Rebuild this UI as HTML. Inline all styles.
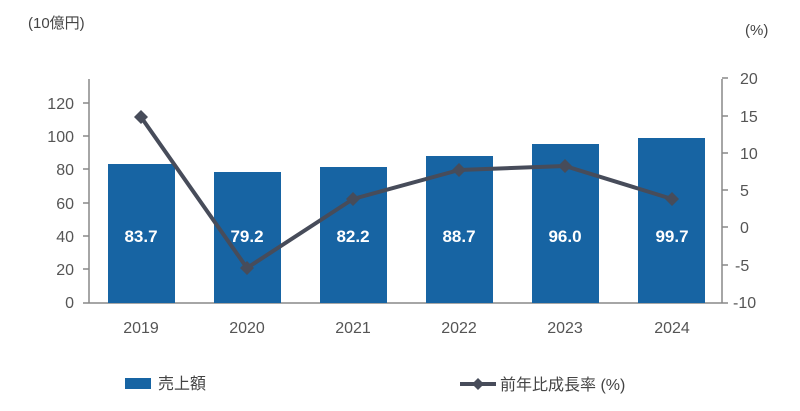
<!DOCTYPE html>
<html><head><meta charset="utf-8"><style>
body{margin:0;background:#fff;}
svg text{font-family:"Liberation Sans","Noto Sans CJK JP",sans-serif;}
</style></head><body>
<svg width="800" height="406" xmlns="http://www.w3.org/2000/svg">
<rect width="800" height="406" fill="#fff"/>
<text x="28" y="28" font-size="15" fill="#444">(10億円)</text>
<text x="745" y="35" font-size="15" fill="#444">(%)</text>
<g stroke="#888" stroke-width="1.5" fill="none">
<line x1="89" y1="79" x2="89" y2="303"/>
<line x1="722" y1="79" x2="722" y2="303"/>
<line x1="83" y1="303" x2="728" y2="303"/>
<line x1="83" y1="103" x2="89" y2="103"/><line x1="83" y1="136" x2="89" y2="136"/><line x1="83" y1="169" x2="89" y2="169"/><line x1="83" y1="203" x2="89" y2="203"/><line x1="83" y1="236" x2="89" y2="236"/><line x1="83" y1="269" x2="89" y2="269"/>
<line x1="722" y1="78" x2="728" y2="78"/><line x1="722" y1="116" x2="728" y2="116"/><line x1="722" y1="153" x2="728" y2="153"/><line x1="722" y1="190" x2="728" y2="190"/><line x1="722" y1="227" x2="728" y2="227"/><line x1="722" y1="265" x2="728" y2="265"/>
</g>
<g font-size="16" fill="#555" text-anchor="end">
<text x="74" y="109">120</text><text x="74" y="142">100</text><text x="74" y="175">80</text><text x="74" y="209">60</text><text x="74" y="242">40</text><text x="74" y="275">20</text><text x="74" y="308">0</text>
</g>
<g font-size="16" fill="#555" text-anchor="start">
<text x="740" y="84">20</text><text x="740" y="122">15</text><text x="740" y="159">10</text><text x="740" y="196">5</text><text x="740" y="233">0</text><text x="735" y="271">-5</text><text x="733" y="308">-10</text>
</g>
<g fill="#1764a3">
<rect x="108" y="164" width="67" height="139"/>
<rect x="214" y="172" width="67" height="131"/>
<rect x="320" y="167" width="67" height="136"/>
<rect x="426" y="156" width="67" height="147"/>
<rect x="532" y="144" width="67" height="159"/>
<rect x="638" y="138" width="67" height="165"/>
</g>
<g font-size="17" font-weight="bold" fill="#fff" text-anchor="middle">
<text x="141" y="242">83.7</text><text x="247" y="242">79.2</text><text x="353" y="242">82.2</text><text x="459" y="242">88.7</text><text x="565" y="242">96.0</text><text x="672" y="242">99.7</text>
</g>
<polyline points="141,117 247,268 353,199 459,170 565,166 672,199" fill="none" stroke="#474c5a" stroke-width="4" stroke-linejoin="round"/>
<g fill="#474c5a">
<path d="M141,110 l7,7 l-7,7 l-7,-7z"/><path d="M247,261 l7,7 l-7,7 l-7,-7z"/><path d="M353,192 l7,7 l-7,7 l-7,-7z"/><path d="M459,163 l7,7 l-7,7 l-7,-7z"/><path d="M565,159 l7,7 l-7,7 l-7,-7z"/><path d="M672,192 l7,7 l-7,7 l-7,-7z"/>
</g>
<g font-size="16" fill="#555" text-anchor="middle">
<text x="141" y="333">2019</text><text x="247" y="333">2020</text><text x="353" y="333">2021</text><text x="459" y="333">2022</text><text x="565" y="333">2023</text><text x="672" y="333">2024</text>
</g>
<rect x="125" y="378" width="26" height="11" fill="#1764a3"/>
<text x="158" y="389" font-size="16" fill="#444">売上額</text>
<line x1="460" y1="384" x2="496" y2="384" stroke="#474c5a" stroke-width="4"/>
<path d="M478,378 l6,6 l-6,6 l-6,-6z" fill="#474c5a"/>
<text x="500" y="390" font-size="16" fill="#444">前年比成長率 (%)</text>
</svg>
</body></html>
